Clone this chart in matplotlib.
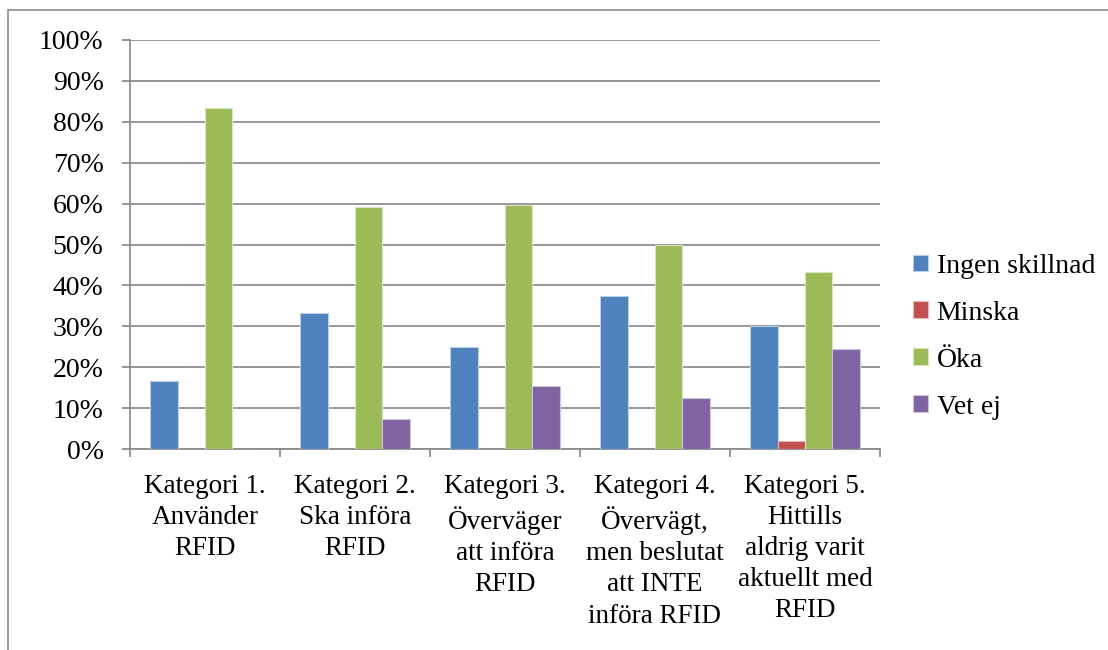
import numpy as np
import matplotlib
matplotlib.use('Agg')
import matplotlib.pyplot as plt
from matplotlib.patches import Rectangle
from matplotlib.ticker import FuncFormatter, MultipleLocator

plt.rcParams['font.family'] = ['Liberation Serif', 'DejaVu Serif']

categories = [
    'Kategori 1.\nAnvänder\nRFID',
    'Kategori 2.\nSka införa\nRFID',
    'Kategori 3.\nÖverväger\natt införa\nRFID',
    'Kategori 4.\nÖvervägt,\nmen beslutat\natt INTE\ninföra RFID',
    'Kategori 5.\nHittills\naldrig varit\naktuellt med\nRFID',
]
series_names = ['Ingen skillnad', 'Minska', 'Öka', 'Vet ej']
ingen_skillnad = [16.7, 33.3, 25.0, 37.5, 30.2]
minska = [0.0, 0.0, 0.0, 0.0, 1.9]
oka = [83.3, 59.3, 59.6, 50.0, 43.4]
vet_ej = [0.0, 7.4, 15.4, 12.5, 24.5]

colors = ['#4F81BD', '#C0504D', '#9BBB59', '#8064A2']
edges = ['#B9CDE5', '#E6B9B8', '#D7E4BD', '#CCC1DA']
series = [ingen_skillnad, minska, oka, vet_ej]

fig = plt.figure(figsize=(11.08, 6.5), dpi=100)
ax = fig.add_axes([0.1173, 0.309, 0.6769, 0.6295])

# outer chart frame (runs off the right and bottom edges)
fig.patches.append(Rectangle((8 / 1108, -0.1), 1.2, 1 - 10 / 650 + 0.1,
                             transform=fig.transFigure, fill=False,
                             edgecolor='#8C8C8C', linewidth=1.2))

x = np.arange(len(categories))
gap = 1.5
bw = 1 / (len(series) + gap)
for i, (vals, name) in enumerate(zip(series, series_names)):
    offs = (i - (len(series) - 1) / 2) * bw
    ax.bar(x + offs, vals, width=bw, color=colors[i], edgecolor=edges[i],
           linewidth=0.8, label=name, zorder=3)

ax.set_xlim(-0.5, len(categories) - 0.5)
ax.set_ylim(0, 100)
ax.yaxis.set_major_locator(MultipleLocator(10))
ax.yaxis.set_major_formatter(FuncFormatter(lambda v, p: f'{v:.0f}%'))
ax.grid(axis='y', color='#868686', linewidth=1.2, zorder=0)

for s in ['top', 'right']:
    ax.spines[s].set_visible(False)
ax.spines['left'].set_color('#868686')
ax.spines['bottom'].set_color('#868686')
ax.spines['left'].set_linewidth(1.2)
ax.spines['bottom'].set_linewidth(1.2)

ax.set_xticks(np.arange(len(categories) + 1) - 0.5)
ax.set_xticklabels([])
ax.set_xticks(x, minor=True)
ax.set_xticklabels(categories, minor=True, fontsize=19.5, linespacing=1.32,
                   va='top')
ax.tick_params(axis='x', which='major', length=6, width=1.2, color='#868686')
ax.tick_params(axis='x', which='minor', length=0, pad=18)
ax.tick_params(axis='y', length=6, width=1.2, color='#868686', labelsize=20,
               pad=13)

leg = ax.legend(loc='center left', bbox_to_anchor=(1.044, 0.275), frameon=False,
                fontsize=20, handlelength=0.55, handleheight=0.55,
                handletextpad=0.3, labelspacing=0.79, borderaxespad=0,
                borderpad=0)

fig.savefig('out.png', dpi=100)
